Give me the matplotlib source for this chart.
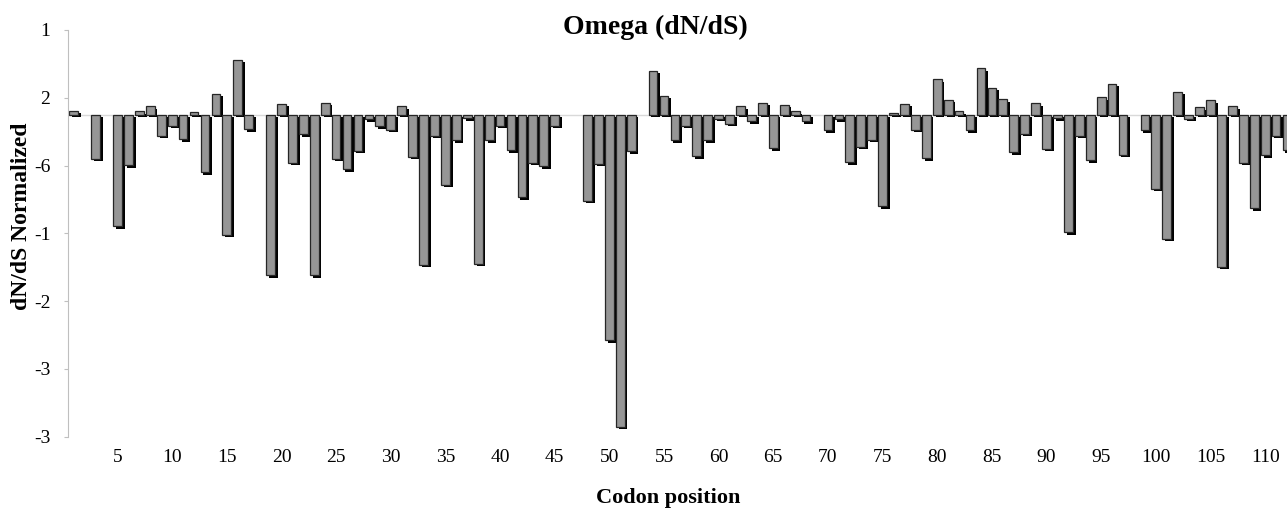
import numpy as np
import matplotlib
matplotlib.use("Agg")
import matplotlib.pyplot as plt
import matplotlib.patheffects as pe

# codon positions 1..112, nan = no bar
codons = list(range(1, 113))
omega = [
    0.06, np.nan, -0.65, np.nan, -1.64, -0.74, 0.05, 0.13, -0.31, -0.16,
    -0.36, 0.04, -0.85, 0.31, -1.77, 0.81, -0.21, np.nan, -2.37, 0.16,
    -0.71, -0.29, -2.37, 0.18, -0.65, -0.80, -0.53, -0.07, -0.17, -0.22,
    0.13, -0.62, -2.21, -0.31, -1.03, -0.38, -0.05, -2.20, -0.38, -0.16,
    -0.52, -1.22, -0.71, -0.76, -0.16, np.nan, np.nan, -1.27, -0.72, -3.33,
    -4.60, -0.54, np.nan, 0.65, 0.28, -0.38, -0.16, -0.61, -0.38, -0.06,
    -0.13, 0.13, -0.10, 0.18, -0.49, 0.15, 0.05, -0.10, np.nan, -0.23,
    -0.07, -0.70, -0.47, -0.37, -1.35, 0.03, 0.16, -0.22, -0.64, 0.52,
    0.22, 0.05, -0.23, 0.69, 0.40, 0.23, -0.55, -0.28, 0.17, -0.50,
    -0.05, -1.73, -0.31, -0.67, 0.26, 0.46, -0.59, np.nan, -0.23, -1.09,
    -1.83, 0.34, -0.06, 0.11, 0.21, -2.24, 0.13, -0.71, -1.38, -0.60,
    -0.31, -0.52,
]

x_ticks = list(range(5, 111, 5))
y_ticks = [1.25, 0.25, -0.75, -1.75, -2.75, -3.75, -4.75]
y_labels = ["1", "2", "-6", "-1", "-2", "-3", "-3"]

plt.rcParams["font.family"] = ["Liberation Serif", "DejaVu Serif"]

fig = plt.figure(figsize=(12.87, 5.08), dpi=100)
ax = fig.add_axes([0.0531, 0.1404, 0.9469, 0.8006])

x = np.array(codons, dtype=float)
y = np.array(omega)
keep = ~np.isnan(y)

ax.axhline(0, color="#d9d9d9", lw=1, zorder=0)
bars = ax.bar(x[keep], y[keep], width=0.8, color="#969696",
              edgecolor="#262626", linewidth=0.9, zorder=2)
for b in bars:
    b.set_path_effects([pe.SimplePatchShadow(offset=(2.0, -1.9),
                                             shadow_rgbFace="black", alpha=1.0),
                        pe.Normal()])

ax.set_xlim(0.5, 112.0)
ax.set_ylim(-4.75, 1.25)

ax.set_yticks(y_ticks)
ax.set_yticklabels(y_labels, fontsize=14)
ax.set_xticks(x_ticks)
ax.set_xticklabels([str(t) for t in x_ticks], fontsize=14)

ax.tick_params(axis="y", length=3, color="#bfbfbf", pad=10)
ax.tick_params(axis="x", length=0, pad=9)
# x labels sit below the plot, not at the zero line
for lab in ax.get_xticklabels():
    lab.set_y(0)

for s in ["top", "right", "bottom"]:
    ax.spines[s].set_visible(False)
ax.spines["left"].set_color("#bfbfbf")

fig.text(0.509, 0.947, "Omega (dN/dS)", ha="center", va="center",
         fontsize=20, fontweight="bold")
fig.text(0.017, 0.575, "dN/dS Normalized", ha="center", va="center",
         rotation=90, fontsize=17, fontweight="bold")
fig.text(0.519, 0.02, "Codon position", ha="center", va="center",
         fontsize=16, fontweight="bold")

fig.savefig("out.png", dpi=100)
